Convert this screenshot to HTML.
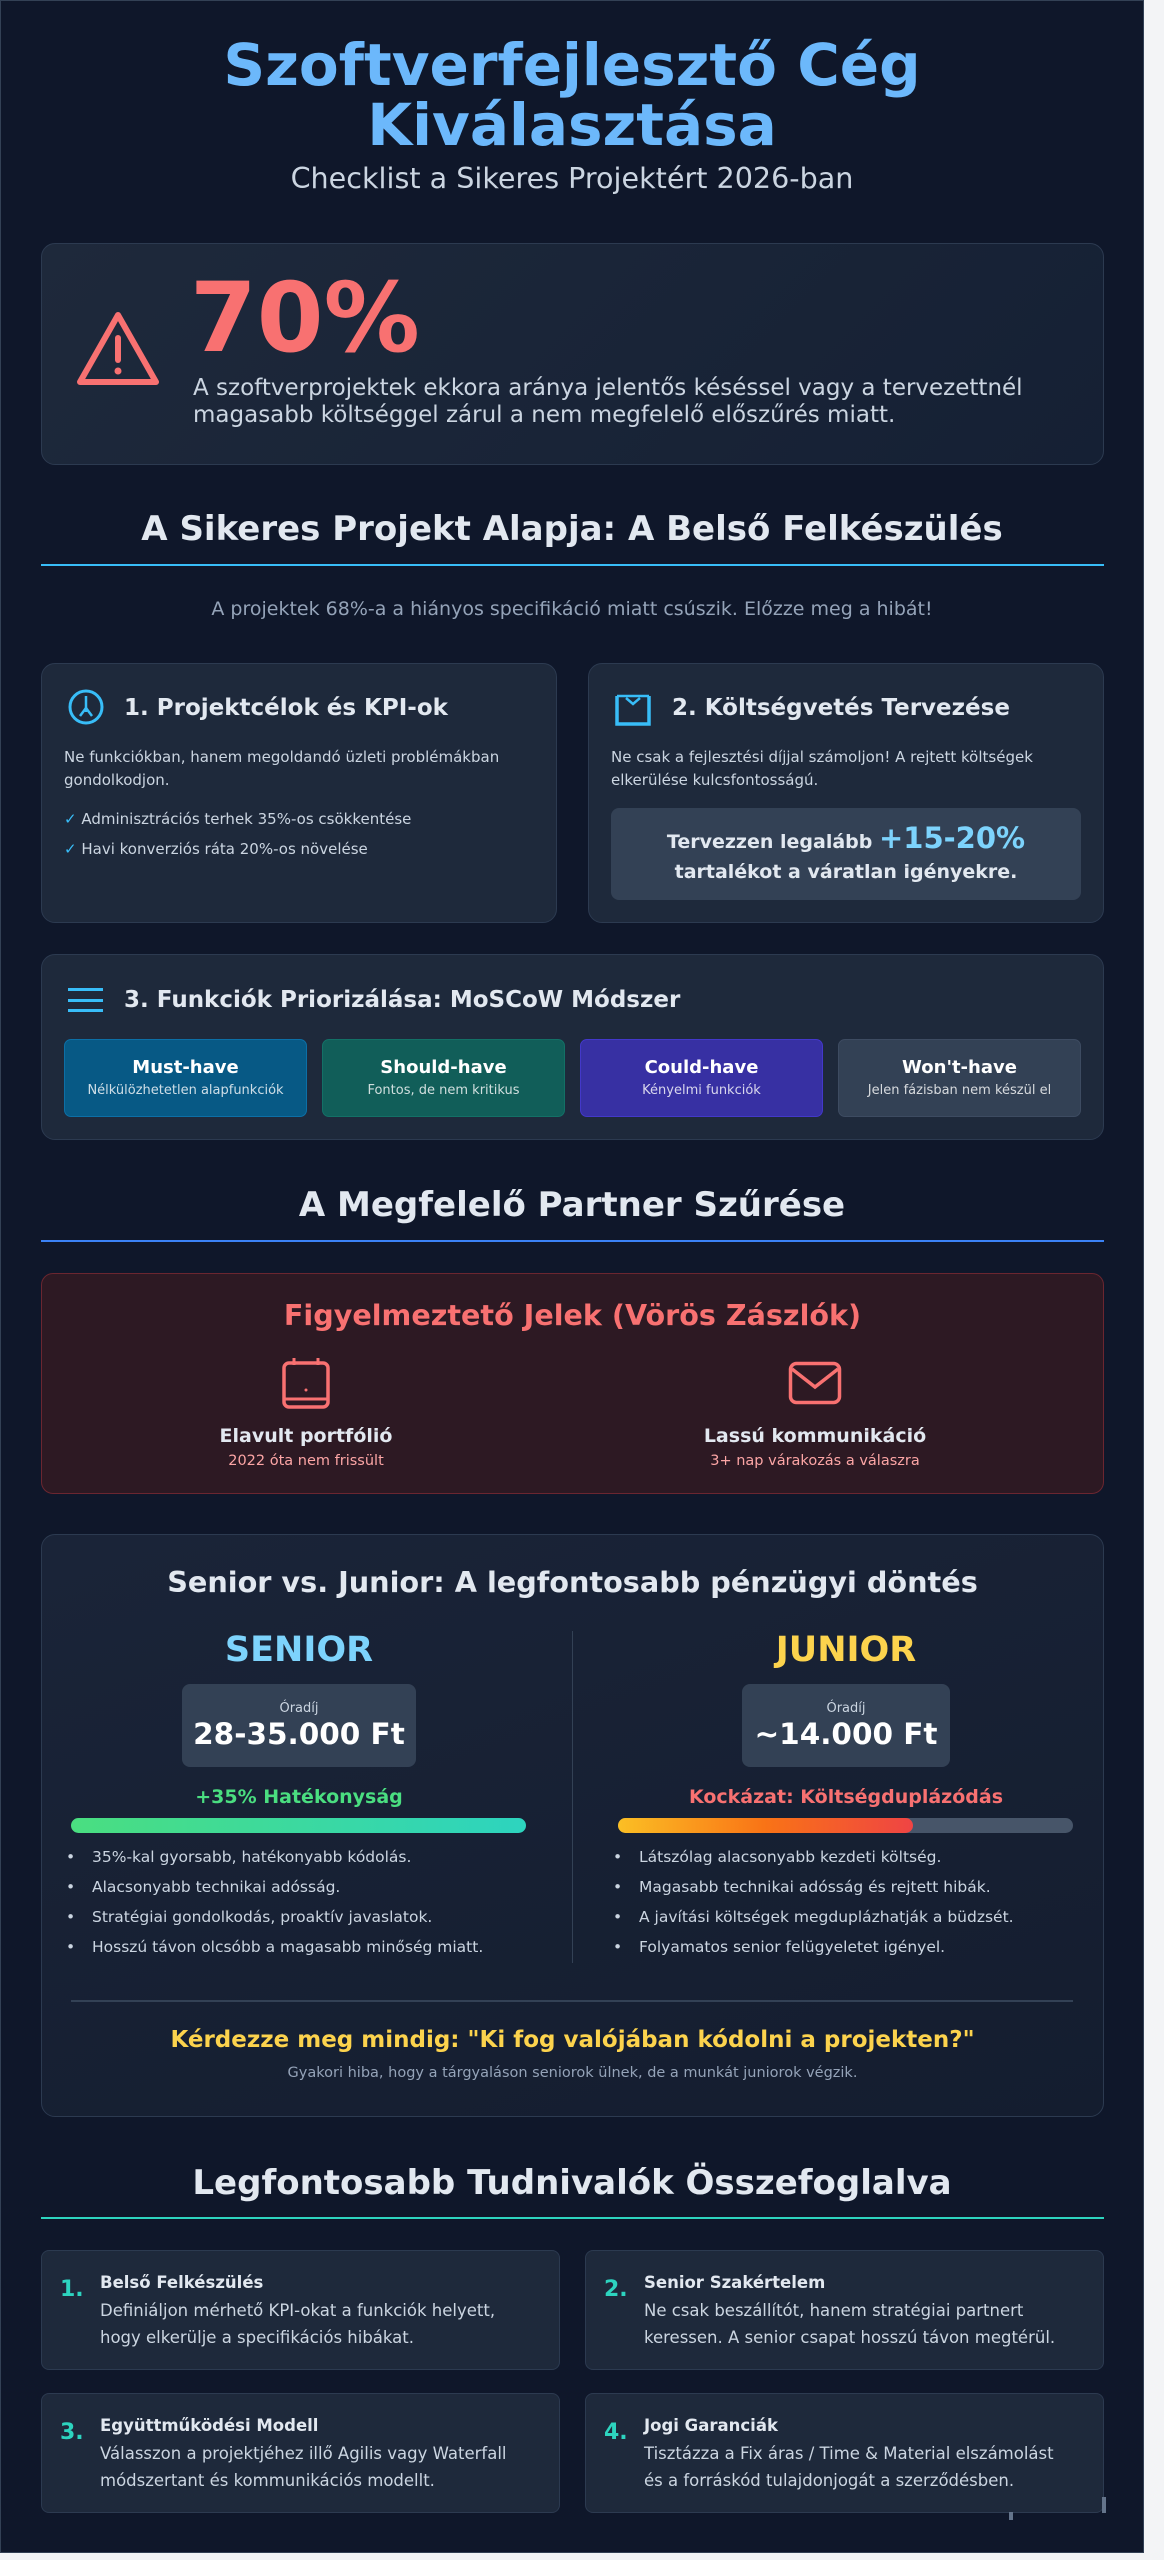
<!DOCTYPE html>
<html><head><meta charset="utf-8"><style>
*{margin:0;padding:0;box-sizing:border-box}
html,body{width:1164px;height:2560px;background:#f3f4f6;overflow:hidden}
body{font-family:"DejaVu Sans","Liberation Sans",sans-serif;position:relative}
#p{position:absolute;left:0;top:0;width:1144px;height:2553px;background:#0f172a;border:1px solid #334155}
.a{position:absolute}
.c{position:absolute;text-align:center;white-space:nowrap}
.card{position:absolute;background:#1e293b;border:1px solid #2c3a50;border-radius:14px}
.h2{font-weight:bold;color:#e2e8f0;font-size:34px}
.t{color:#e2e8f0;font-weight:bold}
.g{color:#cbd5e1}
.mb{position:absolute;top:1039px;height:78px;border-radius:7px;text-align:center;color:#fff}
.mb b{display:block;font-size:18px;margin-top:17px;line-height:22px}
.mb span{display:block;font-size:13px;line-height:18px;margin-top:3px;opacity:.8}
.li{position:absolute;font-size:15.5px;color:#cbd5e1;white-space:nowrap}
.li:before{content:"•";position:absolute;left:-26px;color:#cbd5e1}
</style></head><body>
<div id="p"></div>
<div class="c" style="left:0;width:1144px;top:35px;font-size:58px;font-weight:bold;line-height:60px;color:#6cb8fb">Szoftverfejlesztő Cég<br>Kiválasztása</div>
<div class="c g" style="left:0;width:1144px;top:161px;font-size:28.6px;line-height:34px">Checklist a Sikeres Projektért 2026-ban</div>

<div class="card" style="left:41px;top:243px;width:1063px;height:222px;background:linear-gradient(135deg,#1e293b,#152034)"></div>
<svg class="a" style="left:76px;top:310px" width="84" height="78" viewBox="0 0 84 78"><path d="M42 5 L80 72 H4 Z" fill="none" stroke="#f87171" stroke-width="6" stroke-linejoin="round"/><line x1="42" y1="28" x2="42" y2="50" stroke="#f87171" stroke-width="6" stroke-linecap="round"/><circle cx="42" cy="61" r="3.5" fill="#f87171"/></svg>
<div class="a" style="left:190px;top:270px;font-size:96px;font-weight:bold;color:#f87171;line-height:96px">70%</div>
<div class="a g" style="left:193px;top:375px;font-size:23px;line-height:27px;width:920px">A szoftverprojektek ekkora aránya jelentős késéssel vagy a tervezettnél<br>magasabb költséggel zárul a nem megfelelő előszűrés miatt.</div>

<div class="c h2" style="left:0;width:1144px;top:509px;line-height:40px">A Sikeres Projekt Alapja: A Belső Felkészülés</div>
<div class="a" style="left:41px;top:564px;width:1063px;height:2px;background:#38bdf8"></div>
<div class="c" style="left:0;width:1144px;top:598px;font-size:19px;color:#94a3b8;line-height:22px">A projektek 68%-a a hiányos specifikáció miatt csúszik. Előzze meg a hibát!</div>

<div class="card" style="left:41px;top:663px;width:516px;height:260px"></div>
<svg class="a" style="left:67px;top:688px" width="38" height="38" viewBox="0 0 38 38"><circle cx="19" cy="19" r="16" fill="none" stroke="#38bdf8" stroke-width="3"/><line x1="19" y1="8" x2="19" y2="24" stroke="#38bdf8" stroke-width="2.5"/><path d="M13 28 L19 20 L25 28" fill="none" stroke="#38bdf8" stroke-width="2.5"/></svg>
<div class="a t" style="left:124px;top:694px;font-size:23px;line-height:28px">1. Projektcélok és KPI-ok</div>
<div class="a g" style="left:64px;top:746px;font-size:15px;line-height:23px">Ne funkciókban, hanem megoldandó üzleti problémákban<br>gondolkodjon.</div>
<div class="a g" style="left:64px;top:808px;font-size:15px;line-height:22px"><span style="color:#38bdf8">✓</span> Adminisztrációs terhek 35%-os csökkentése</div>
<div class="a g" style="left:64px;top:838px;font-size:15px;line-height:22px"><span style="color:#38bdf8">✓</span> Havi konverziós ráta 20%-os növelése</div>

<div class="card" style="left:588px;top:663px;width:516px;height:260px"></div>
<svg class="a" style="left:614px;top:693px" width="38" height="34" viewBox="0 0 38 34"><path d="M3 3 V31 H35 V3" fill="none" stroke="#38bdf8" stroke-width="3.5"/><path d="M3 3 H35 M12 5 L19 11 L26 5" fill="none" stroke="#38bdf8" stroke-width="2.5"/></svg>
<div class="a t" style="left:672px;top:694px;font-size:23px;line-height:28px">2. Költségvetés Tervezése</div>
<div class="a g" style="left:611px;top:746px;font-size:15px;line-height:23px">Ne csak a fejlesztési díjjal számoljon! A rejtett költségek<br>elkerülése kulcsfontosságú.</div>
<div class="a" style="left:611px;top:808px;width:470px;height:92px;background:#334155;border-radius:8px"></div>
<div class="c t" style="left:611px;width:470px;top:823px;font-size:19px;line-height:30px">Tervezzen legalább <span style="font-size:29px;color:#7dd3fc">+15-20%</span><br>tartalékot a váratlan igényekre.</div>

<div class="card" style="left:41px;top:954px;width:1063px;height:186px"></div>
<div class="a" style="left:68px;top:988px;width:35px;height:24px;border-top:3px solid #38bdf8;border-bottom:3px solid #38bdf8"><div style="margin-top:7.5px;height:3px;background:#38bdf8"></div></div>
<div class="a t" style="left:124px;top:986px;font-size:23px;line-height:28px">3. Funkciók Priorizálása: MoSCoW Módszer</div>
<div class="mb" style="left:64px;width:243px;background:#075985;border:1px solid #0c6fa6"><b>Must-have</b><span>Nélkülözhetetlen alapfunkciók</span></div>
<div class="mb" style="left:322px;width:243px;background:#115e59;border:1px solid #137066"><b>Should-have</b><span>Fontos, de nem kritikus</span></div>
<div class="mb" style="left:580px;width:243px;background:#3730a3;border:1px solid #4338ca"><b>Could-have</b><span>Kényelmi funkciók</span></div>
<div class="mb" style="left:838px;width:243px;background:#334155;border:1px solid #3d4b61"><b>Won't-have</b><span>Jelen fázisban nem készül el</span></div>

<div class="c h2" style="left:0;width:1144px;top:1185px;line-height:40px">A Megfelelő Partner Szűrése</div>
<div class="a" style="left:41px;top:1240px;width:1063px;height:2px;background:#3b82f6"></div>

<div class="a" style="left:41px;top:1273px;width:1063px;height:221px;background:#2d1923;border:1px solid #6b2630;border-radius:12px"></div>
<div class="c" style="left:41px;width:1063px;top:1298px;font-size:28.6px;font-weight:bold;color:#f87171;line-height:34px">Figyelmeztető Jelek (Vörös Zászlók)</div>
<svg class="a" style="left:280px;top:1357px" width="52" height="52" viewBox="0 0 52 52"><rect x="4" y="6" width="44" height="44" rx="5" fill="none" stroke="#f87171" stroke-width="3.5"/><line x1="14" y1="1" x2="14" y2="8" stroke="#f87171" stroke-width="3"/><line x1="38" y1="1" x2="38" y2="8" stroke="#f87171" stroke-width="3"/><line x1="4" y1="42" x2="48" y2="42" stroke="#f87171" stroke-width="3"/><circle cx="26" cy="33" r="1.5" fill="#f87171"/></svg>
<svg class="a" style="left:788px;top:1361px" width="54" height="44" viewBox="0 0 54 44"><rect x="2.5" y="2.5" width="49" height="39" rx="6" fill="none" stroke="#f87171" stroke-width="3.5"/><path d="M4 8 L27 26 L50 8" fill="none" stroke="#f87171" stroke-width="3.5"/></svg>
<div class="c t" style="left:156px;width:300px;top:1424px;font-size:19px;line-height:24px">Elavult portfólió</div>
<div class="c" style="left:156px;width:300px;top:1451px;font-size:14.5px;color:#fca5a5;line-height:20px">2022 óta nem frissült</div>
<div class="c t" style="left:665px;width:300px;top:1424px;font-size:19px;line-height:24px">Lassú kommunikáció</div>
<div class="c" style="left:665px;width:300px;top:1451px;font-size:14.5px;color:#fca5a5;line-height:20px">3+ nap várakozás a válaszra</div>

<div class="card" style="left:41px;top:1534px;width:1063px;height:583px;background:linear-gradient(160deg,#1a2438,#141d2f)"></div>
<div class="c t" style="left:41px;width:1063px;top:1564px;font-size:28.7px;line-height:36px">Senior vs. Junior: A legfontosabb pénzügyi döntés</div>
<div class="a" style="left:572px;top:1631px;width:1px;height:332px;background:#334155"></div>
<div class="c" style="left:99px;width:400px;top:1629px;font-size:35px;font-weight:bold;color:#7dd3fc;line-height:42px">SENIOR</div>
<div class="c" style="left:646px;width:400px;top:1629px;font-size:35px;font-weight:bold;color:#fcd34d;line-height:42px">JUNIOR</div>
<div class="a" style="left:182px;top:1684px;width:234px;height:83px;background:#334155;border-radius:8px"></div>
<div class="a" style="left:742px;top:1684px;width:208px;height:83px;background:#334155;border-radius:8px"></div>
<div class="c" style="left:182px;width:234px;top:1700px;font-size:13px;color:#cbd5e1;line-height:18px">Óradíj</div>
<div class="c" style="left:742px;width:208px;top:1700px;font-size:13px;color:#cbd5e1;line-height:18px">Óradíj</div>
<div class="c" style="left:182px;width:234px;top:1716px;font-size:29.5px;font-weight:bold;color:#fff;line-height:36px">28-35.000 Ft</div>
<div class="c" style="left:742px;width:208px;top:1716px;font-size:29.5px;font-weight:bold;color:#fff;line-height:36px">~14.000 Ft</div>
<div class="c" style="left:99px;width:400px;top:1785px;font-size:19px;font-weight:bold;color:#4ade80;line-height:24px">+35% Hatékonyság</div>
<div class="c" style="left:646px;width:400px;top:1785px;font-size:19px;font-weight:bold;color:#f87171;line-height:24px">Kockázat: Költségduplázódás</div>
<div class="a" style="left:71px;top:1818px;width:455px;height:15px;border-radius:8px;background:linear-gradient(90deg,#4ade80,#2dd4bf)"></div>
<div class="a" style="left:618px;top:1818px;width:455px;height:15px;border-radius:8px;background:#475569"><div style="width:295px;height:15px;border-radius:8px;background:linear-gradient(90deg,#fbbf24,#f97316,#ef4444)"></div></div>
<div class="li" style="left:92px;top:1848px">35%-kal gyorsabb, hatékonyabb kódolás.</div>
<div class="li" style="left:92px;top:1878px">Alacsonyabb technikai adósság.</div>
<div class="li" style="left:92px;top:1908px">Stratégiai gondolkodás, proaktív javaslatok.</div>
<div class="li" style="left:92px;top:1938px">Hosszú távon olcsóbb a magasabb minőség miatt.</div>
<div class="li" style="left:639px;top:1848px">Látszólag alacsonyabb kezdeti költség.</div>
<div class="li" style="left:639px;top:1878px">Magasabb technikai adósság és rejtett hibák.</div>
<div class="li" style="left:639px;top:1908px">A javítási költségek megduplázhatják a büdzsét.</div>
<div class="li" style="left:639px;top:1938px">Folyamatos senior felügyeletet igényel.</div>
<div class="a" style="left:71px;top:2000px;width:1002px;height:2px;background:#334155"></div>
<div class="c" style="left:41px;width:1063px;top:2026px;font-size:23px;font-weight:bold;color:#fcd34d;line-height:28px">Kérdezze meg mindig: "Ki fog valójában kódolni a projekten?"</div>
<div class="c" style="left:41px;width:1063px;top:2063px;font-size:14.5px;color:#94a3b8;line-height:20px">Gyakori hiba, hogy a tárgyaláson seniorok ülnek, de a munkát juniorok végzik.</div>

<div class="c h2" style="left:0;width:1144px;top:2163px;line-height:40px">Legfontosabb Tudnivalók Összefoglalva</div>
<div class="a" style="left:41px;top:2217px;width:1063px;height:2px;background:#2dd4bf"></div>

<div class="card" style="left:41px;top:2250px;width:519px;height:120px;border-radius:8px"></div>
<div class="card" style="left:585px;top:2250px;width:519px;height:120px;border-radius:8px"></div>
<div class="card" style="left:41px;top:2393px;width:519px;height:120px;border-radius:8px"></div>
<div class="card" style="left:585px;top:2393px;width:519px;height:120px;border-radius:8px"></div>

<div class="a" style="left:60px;top:2277px;font-size:22px;font-weight:bold;color:#2dd4bf">1.</div>
<div class="a t" style="left:100px;top:2272px;font-size:16.5px;line-height:22px">Belső Felkészülés</div>
<div class="a g" style="left:100px;top:2297px;font-size:16.5px;line-height:27px">Definiáljon mérhető KPI-okat a funkciók helyett,<br>hogy elkerülje a specifikációs hibákat.</div>
<div class="a" style="left:604px;top:2277px;font-size:22px;font-weight:bold;color:#2dd4bf">2.</div>
<div class="a t" style="left:644px;top:2272px;font-size:16.5px;line-height:22px">Senior Szakértelem</div>
<div class="a g" style="left:644px;top:2297px;font-size:16.5px;line-height:27px">Ne csak beszállítót, hanem stratégiai partnert<br>keressen. A senior csapat hosszú távon megtérül.</div>
<div class="a" style="left:60px;top:2420px;font-size:22px;font-weight:bold;color:#2dd4bf">3.</div>
<div class="a t" style="left:100px;top:2415px;font-size:16.5px;line-height:22px">Együttműködési Modell</div>
<div class="a g" style="left:100px;top:2440px;font-size:16.5px;line-height:27px">Válasszon a projektjéhez illő Agilis vagy Waterfall<br>módszertant és kommunikációs modellt.</div>
<div class="a" style="left:604px;top:2420px;font-size:22px;font-weight:bold;color:#2dd4bf">4.</div>
<div class="a t" style="left:644px;top:2415px;font-size:16.5px;line-height:22px">Jogi Garanciák</div>
<div class="a g" style="left:644px;top:2440px;font-size:16.5px;line-height:27px">Tisztázza a Fix áras / Time &amp; Material elszámolást<br>és a forráskód tulajdonjogát a szerződésben.</div>
<div class="a" style="left:1009px;top:2512px;width:4px;height:8px;background:#64748b"></div>
<div class="a" style="left:1102px;top:2497px;width:4px;height:16px;background:#64748b"></div>
</body></html>
